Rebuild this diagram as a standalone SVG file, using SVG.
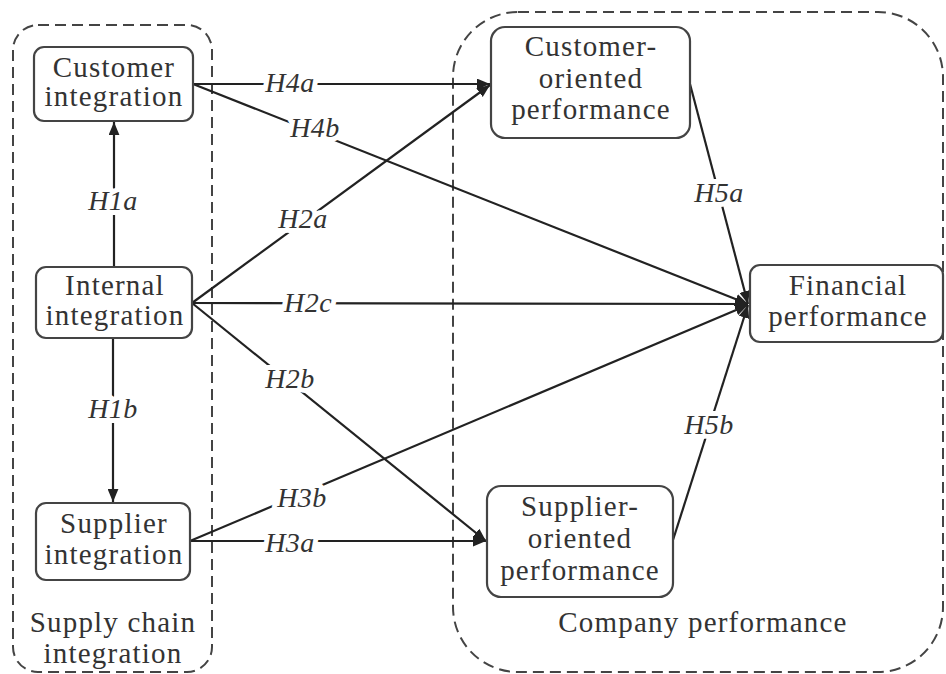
<svg xmlns="http://www.w3.org/2000/svg" width="946" height="674" viewBox="0 0 946 674">
<defs>
<marker id="ah" viewBox="0 0 12 10" refX="12" refY="5" markerWidth="13" markerHeight="11" markerUnits="userSpaceOnUse" orient="auto">
<path d="M0,0 L12,5 L0,10 z" fill="#222"/>
</marker>
</defs>
<style>
.grp{fill:none;stroke:#444;stroke-width:2;stroke-dasharray:11 6}
.box{fill:#fff;stroke:#444;stroke-width:2.2}
.nt{font-family:"Liberation Serif","Times New Roman","DejaVu Serif",serif;font-size:29px;letter-spacing:1.2px;fill:#333;text-anchor:middle}
.lbl{font-family:"Liberation Serif","Times New Roman","DejaVu Serif",serif;font-style:italic;font-size:28px;letter-spacing:0.5px;fill:#333;text-anchor:middle;stroke:#fff;stroke-width:10;paint-order:stroke;stroke-linejoin:round}
.ca{stroke:#222;stroke-width:2.2;fill:none;marker-end:url(#ah)}
</style>
<rect width="946" height="674" fill="#fff"/>
<g id="group-sci">
<rect class="grp" x="13" y="25" width="199" height="647" rx="25"/>
<text class="nt" x="113" y="632">Supply chain</text>
<text class="nt" x="113" y="663">integration</text>
</g>
<g id="group-cp">
<rect class="grp" x="453" y="12" width="490" height="660" rx="65"/>
<text class="nt" x="703" y="632">Company performance</text>
</g>
<g id="connectors">
<line class="ca" x1="114" y1="267" x2="114" y2="122"/>
<line class="ca" x1="113" y1="338" x2="113" y2="502"/>
<line class="ca" x1="193" y1="84" x2="490" y2="84"/>
<line class="ca" x1="193" y1="84" x2="748" y2="304"/>
<line class="ca" x1="192" y1="303" x2="490" y2="85"/>
<line class="ca" x1="192" y1="303" x2="748" y2="304"/>
<line class="ca" x1="192" y1="303" x2="486" y2="541"/>
<line class="ca" x1="190" y1="541" x2="748" y2="305"/>
<line class="ca" x1="190" y1="541" x2="486" y2="541"/>
<line class="ca" x1="690" y1="84" x2="748" y2="304"/>
<line class="ca" x1="673" y1="540" x2="748" y2="305"/>
<text class="lbl" x="113" y="210">H1a</text>
<text class="lbl" x="113" y="418">H1b</text>
<text class="lbl" x="290" y="92">H4a</text>
<text class="lbl" x="315" y="137">H4b</text>
<text class="lbl" x="303" y="228">H2a</text>
<text class="lbl" x="308" y="312">H2c</text>
<text class="lbl" x="290" y="388">H2b</text>
<text class="lbl" x="302" y="507">H3b</text>
<text class="lbl" x="290" y="552">H3a</text>
<text class="lbl" x="719" y="202">H5a</text>
<text class="lbl" x="709" y="434">H5b</text>
</g>
<g id="customer-integration">
<rect class="box" x="34" y="47" width="159" height="74" rx="10"/>
<text class="nt" x="114" y="77">Customer</text>
<text class="nt" x="114" y="106">integration</text>
</g>
<g id="internal-integration">
<rect class="box" x="36" y="267" width="156" height="71" rx="10"/>
<text class="nt" x="115" y="295">Internal</text>
<text class="nt" x="115" y="325">integration</text>
</g>
<g id="supplier-integration">
<rect class="box" x="36" y="503" width="154" height="77" rx="10"/>
<text class="nt" x="114" y="533">Supplier</text>
<text class="nt" x="114" y="564">integration</text>
</g>
<g id="customer-oriented-performance">
<rect class="box" x="491" y="27" width="199" height="111" rx="14"/>
<text class="nt" x="591" y="56">Customer-</text>
<text class="nt" x="591" y="88">oriented</text>
<text class="nt" x="591" y="119">performance</text>
</g>
<g id="financial-performance">
<rect class="box" x="750" y="265" width="193" height="77" rx="10"/>
<text class="nt" x="848" y="295">Financial</text>
<text class="nt" x="848" y="326">performance</text>
</g>
<g id="supplier-oriented-performance">
<rect class="box" x="487" y="486" width="186" height="111" rx="14"/>
<text class="nt" x="580" y="516">Supplier-</text>
<text class="nt" x="580" y="548">oriented</text>
<text class="nt" x="580" y="580">performance</text>
</g>
</svg>
